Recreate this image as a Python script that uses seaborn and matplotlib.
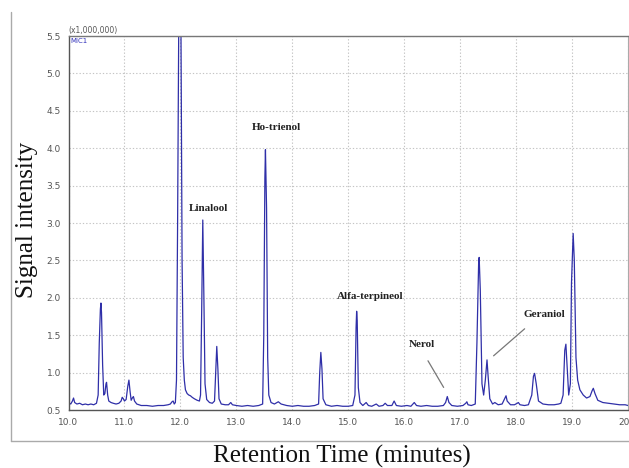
import matplotlib
matplotlib.use("Agg")
import matplotlib.pyplot as plt
from matplotlib.ticker import MultipleLocator, FixedLocator
from matplotlib.lines import Line2D
import seaborn as sns
import pandas as pd

# ---- chromatogram trace (retention time, intensity x1e6) ----
trace_t = [
    10.00, 10.04, 10.07, 10.09, 10.11, 10.15, 10.20, 10.25, 10.30, 10.35, 10.40, 10.45, 10.50,
    10.53, 10.55, 10.57, 10.58, 10.59, 10.61, 10.63, 10.65, 10.67, 10.68, 10.70, 10.72, 10.76,
    10.80, 10.85, 10.90, 10.94, 10.96, 10.98, 11.00, 11.03, 11.06, 11.08, 11.10, 11.12, 11.14,
    11.16, 11.18, 11.22, 11.30, 11.40, 11.50, 11.60, 11.70, 11.78, 11.82, 11.85, 11.87, 11.89,
    11.91, 11.93, 11.95, 11.97, 11.99, 12.01, 12.03, 12.05, 12.07, 12.09, 12.12, 12.15, 12.18,
    12.21, 12.25, 12.30, 12.34, 12.36, 12.38, 12.40, 12.42, 12.44, 12.47, 12.52, 12.57, 12.61,
    12.63, 12.65, 12.67, 12.69, 12.73, 12.80, 12.86, 12.90, 12.93, 13.00, 13.10, 13.20, 13.30,
    13.40, 13.47, 13.49, 13.51, 13.52, 13.54, 13.56, 13.58, 13.62, 13.68, 13.75, 13.80, 13.90,
    14.00, 14.10, 14.20, 14.30, 14.40, 14.47, 14.49, 14.51, 14.53, 14.55, 14.60, 14.70, 14.80,
    14.90, 15.00, 15.08, 15.12, 15.14, 15.15, 15.16, 15.18, 15.21, 15.26, 15.32, 15.36, 15.42,
    15.50, 15.55, 15.62, 15.66, 15.70, 15.78, 15.82, 15.86, 15.95, 16.05, 16.12, 16.18, 16.22,
    16.30, 16.40, 16.50, 16.60, 16.70, 16.74, 16.77, 16.80, 16.85, 16.95, 17.05, 17.10, 17.12,
    17.14, 17.20, 17.27, 17.30, 17.33, 17.34, 17.36, 17.39, 17.42, 17.45, 17.48, 17.50, 17.53,
    17.58, 17.62, 17.68, 17.75, 17.80, 17.82, 17.84, 17.90, 17.97, 18.02, 18.04, 18.07, 18.15,
    18.22, 18.28, 18.31, 18.33, 18.36, 18.40, 18.48, 18.58, 18.68, 18.76, 18.80, 18.84, 18.87,
    18.89, 18.91, 18.94, 18.97, 18.99, 19.02, 19.04, 19.07, 19.10, 19.14, 19.20, 19.26, 19.32,
    19.36, 19.38, 19.41, 19.46, 19.55, 19.65, 19.75, 19.85, 19.95, 20.00,
]
trace_v = [
    0.60, 0.58, 0.62, 0.66, 0.60, 0.58, 0.59, 0.57, 0.58, 0.57, 0.58, 0.57, 0.59,
    0.70, 1.40, 1.85, 1.93, 1.80, 1.10, 0.70, 0.72, 0.85, 0.87, 0.70, 0.62, 0.60,
    0.59, 0.58, 0.59, 0.62, 0.67, 0.65, 0.62, 0.64, 0.82, 0.90, 0.75, 0.63, 0.66,
    0.68, 0.62, 0.58, 0.56, 0.56, 0.55, 0.56, 0.56, 0.57, 0.58, 0.61, 0.62, 0.58,
    0.60, 0.90, 3.00, 5.60, 6.00, 5.60, 2.50, 1.20, 0.90, 0.77, 0.72, 0.70, 0.69,
    0.67, 0.65, 0.63, 0.62, 0.70, 1.80, 3.04, 2.00, 0.85, 0.64, 0.60, 0.59, 0.62,
    1.00, 1.35, 1.05, 0.65, 0.58, 0.57, 0.57, 0.60, 0.57, 0.56, 0.55, 0.56, 0.55,
    0.56, 0.58, 1.50, 3.60, 3.98, 3.20, 1.20, 0.70, 0.60, 0.58, 0.61, 0.58, 0.56,
    0.55, 0.56, 0.55, 0.55, 0.56, 0.58, 1.00, 1.27, 1.05, 0.65, 0.57, 0.55, 0.56,
    0.55, 0.55, 0.56, 0.70, 1.60, 1.82, 1.70, 0.80, 0.60, 0.56, 0.60, 0.56, 0.55,
    0.58, 0.55, 0.56, 0.59, 0.56, 0.56, 0.62, 0.56, 0.55, 0.56, 0.55, 0.60, 0.56,
    0.55, 0.56, 0.55, 0.55, 0.56, 0.60, 0.68, 0.60, 0.56, 0.55, 0.56, 0.59, 0.61,
    0.57, 0.56, 0.58, 1.40, 2.45, 2.54, 2.10, 0.85, 0.70, 0.90, 1.17, 0.95, 0.65,
    0.58, 0.60, 0.57, 0.58, 0.66, 0.69, 0.62, 0.57, 0.57, 0.59, 0.60, 0.57, 0.56,
    0.57, 0.70, 0.95, 0.99, 0.85, 0.62, 0.58, 0.57, 0.57, 0.58, 0.59, 0.70, 1.30,
    1.38, 1.10, 0.70, 0.85, 2.20, 2.86, 2.50, 1.20, 0.90, 0.77, 0.70, 0.66, 0.68,
    0.76, 0.79, 0.72, 0.63, 0.60, 0.59, 0.58, 0.57, 0.57, 0.56,
]

# ---- compound labels ----
label_names = ["Linalool", "Ho-trienol", "Alfa-terpineol", "Nerol", "Geraniol"]
label_t = [12.50, 13.71, 15.39, 16.32, 18.50]
label_v = [3.20, 4.28, 2.02, 1.37, 1.78]
# leader lines (label end -> peak end) for Nerol and Geraniol
leader_names = ["Nerol", "Geraniol"]
leader_from_t = [16.40, 18.19]
leader_from_v = [1.19, 1.61]
leader_to_t = [16.73, 17.56]
leader_to_v = [0.77, 1.20]

x_ticks = [10, 11, 12, 13, 14, 15, 16, 17, 18, 19, 20]
x_ticklabels = ["10.0", "11.0", "12.0", "13.0", "14.0", "15.0", "16.0", "17.0", "18.0", "19.0", "20.0"]
y_ticks = [0.5, 1.0, 1.5, 2.0, 2.5, 3.0, 3.5, 4.0, 4.5, 5.0, 5.5]
y_ticklabels = ["0.5", "1.0", "1.5", "2.0", "2.5", "3.0", "3.5", "4.0", "4.5", "5.0", "5.5"]

sns.set_style("white")
plt.rcParams["font.family"] = ["DejaVu Sans"]

W, H = 629, 468
fig = plt.figure(figsize=(W / 100, H / 100), dpi=100)
ax_left, ax_right, ax_bottom, ax_top = 68.5, 628.0, 410.0, 36.0
ax = fig.add_axes([ax_left / W, 1 - ax_bottom / H, (ax_right - ax_left) / W, (ax_bottom - ax_top) / H])

df = pd.DataFrame({"t": trace_t, "v": trace_v})
sns.lineplot(data=df, x="t", y="v", ax=ax, sort=False, estimator=None,
             color="#2f2fa8", linewidth=0.9)

ax.set_xlim(10, 20)
ax.set_ylim(0.5, 5.5)
ax.set_xlabel("")
ax.set_ylabel("")

ax.xaxis.set_major_locator(FixedLocator(x_ticks))
ax.set_xticklabels(x_ticklabels)
ax.yaxis.set_major_locator(FixedLocator(y_ticks))
ax.set_yticklabels(y_ticklabels)
ax.xaxis.set_minor_locator(MultipleLocator(0.2))
ax.yaxis.set_minor_locator(MultipleLocator(0.1))
ax.tick_params(axis="both", which="major", direction="out", length=4, width=0.8,
               color="#555555", labelsize=6.5, labelcolor="#555555", pad=1.5)
ax.tick_params(axis="both", which="minor", direction="out", length=2, width=0.6, color="#666666")
ax.tick_params(top=False, right=False, which="both")

ax.grid(True, which="major", linestyle=(0, (1.2, 1.8)), color="#c4c4c4", linewidth=0.8)
for side, col, lw in [("left", "#555555", 1.0), ("bottom", "#555555", 1.0),
                      ("top", "#777777", 1.0), ("right", "#aaaaaa", 0.8)]:
    ax.spines[side].set_visible(True)
    ax.spines[side].set_color(col)
    ax.spines[side].set_linewidth(lw)

# header texts
ax.text(0.0, 1.002, "(x1,000,000)", transform=ax.transAxes, ha="left", va="bottom",
        fontsize=5.5, color="#555555")
ax.text(0.004, 0.995, "MIC1", transform=ax.transAxes, ha="left", va="top",
        fontsize=5, color="#3333bb")

# compound labels
for name, t, v in zip(label_names, label_t, label_v):
    ax.text(t, v, name, ha="center", va="center", fontsize=8, fontweight="bold",
            family="Liberation Serif", color="#222222")
for name, ft, fv, tt, tv in zip(leader_names, leader_from_t, leader_from_v, leader_to_t, leader_to_v):
    ax.annotate("", xy=(tt, tv), xytext=(ft, fv),
                arrowprops=dict(arrowstyle="-", color="#777777", lw=0.9))

# axis titles
fig.text(342 / W, 1 - 456 / H, "Retention Time (minutes)", ha="center", va="center",
         fontsize=18, family="Liberation Serif", color="#111111")
fig.text(27 / W, 1 - 220 / H, "Signal intensity", ha="center", va="center", rotation=90,
         fontsize=18, family="Liberation Serif", color="#111111")

# outer frame lines
fig.add_artist(Line2D([10.5 / W, 10.5 / W], [1 - 12 / H, 1 - 440.5 / H],
                      transform=fig.transFigure, color="#aaaaaa", linewidth=1.0))
fig.add_artist(Line2D([10.5 / W, 1.0], [1 - 440.5 / H, 1 - 440.5 / H],
                      transform=fig.transFigure, color="#aaaaaa", linewidth=1.0))

fig.savefig("out.png", dpi=100)
